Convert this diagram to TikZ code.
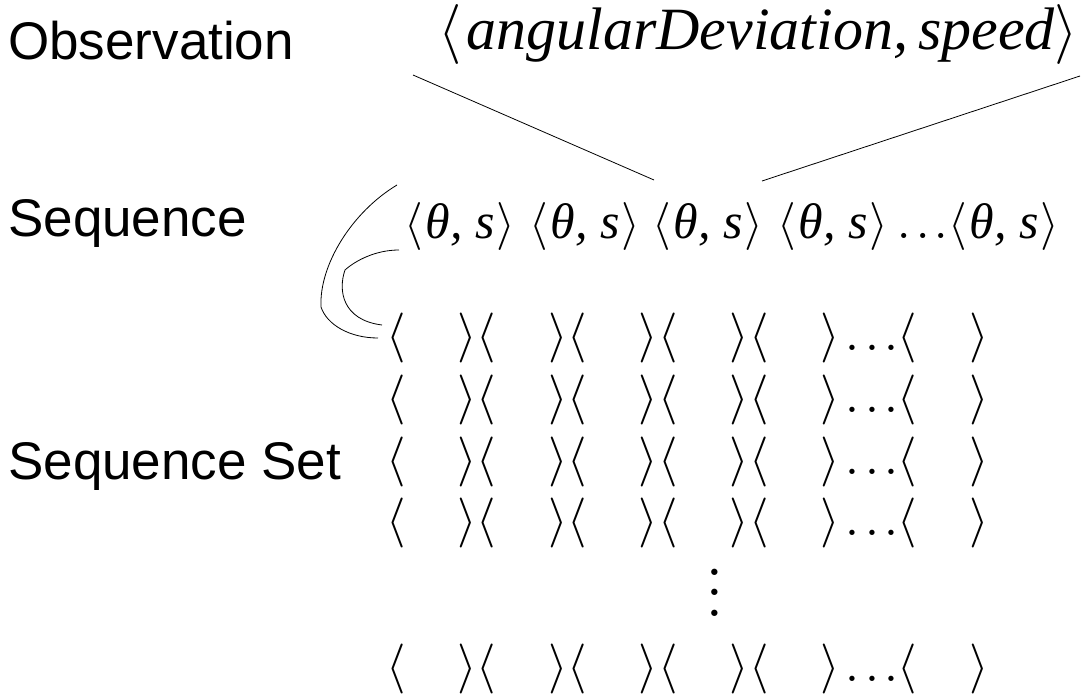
\documentclass[tikz,border=0pt]{standalone}
\usepackage{mathptmx}
\usepackage[no-math]{fontspec}
\newfontfamily\labelfont{Liberation Sans}
\newfontfamily\serifit{Liberation Serif Italic}
\newcommand\emptyrow{$\langle\hspace{52bp}\rangle\langle\hspace{52bp}\rangle\langle\hspace{52bp}\rangle\langle\hspace{52bp}\rangle\langle\hspace{52bp}\rangle\ldots\hspace{-6bp}\langle\hspace{52bp}\rangle$}
\newcommand\tsgroup{$\langle$\hspace{3bp}{\serifit\fontsize{50bp}{56bp}\selectfont θ, s}\hspace{2bp}$\rangle$}
\newcommand\tallvdots{\vbox{\baselineskip=20.5bp\lineskiplimit=0pt\hbox{$.$}\hbox{$.$}\hbox{$.$}}}
\tikzset{
  lbl/.style={font=\labelfont\fontsize{53bp}{60bp}\selectfont, anchor=base west, inner sep=0pt},
  obsv/.style={font=\fontsize{60bp}{70bp}\selectfont, anchor=base west, inner sep=0pt},
  grp/.style={font=\fontsize{48bp}{56bp}\selectfont, anchor=base west, inner sep=0pt},
  brow/.style={font=\fontsize{50bp}{58bp}\selectfont, anchor=base west, inner sep=0pt},
  link/.style={line width=0.8bp, black},
}
\begin{document}
\begin{tikzpicture}[x=1bp,y=-1bp]
\useasboundingbox[fill=white] (0,0) rectangle (1087,698);
% labels
\node[lbl] (lobs) at (8,60) {Observation};
\node[lbl] (lseq) at (8,236) {Sequence};
\node[lbl] (lset) at (8,479) {Sequence Set};
% observation
\node[obsv] (obs) at (438,50) {$\langle$\hspace{5bp}{\serifit angularDeviation,\,speed}$\rangle$};
% sequence
\node[grp] (g1) at (404,238) {\tsgroup};
\node[grp] (g2) at (529,238) {\tsgroup};
\node[grp] (g3) at (652,238) {\tsgroup};
\node[grp] (g4) at (777,238) {\tsgroup};
\node[grp, anchor=base] (sdots) at (923,238) {$\ldots$};
\node[grp] (g5) at (948,238) {\tsgroup};
% sequence set
\node[brow] (r1) at (386,350.5) {\emptyrow};
\node[brow] (r2) at (386,412.5) {\emptyrow};
\node[brow] (r3) at (386,474.5) {\emptyrow};
\node[brow] (r4) at (386,535.5) {\emptyrow};
\node[font=\fontsize{60bp}{60bp}\selectfont, inner sep=0pt] (vd) at (715,592.5) {\tallvdots};
\node[brow] (r5) at (386,681.5) {\emptyrow};
% connectors
\coordinate (la) at (413,75);
\coordinate (lb) at (654,180);
\coordinate (ra) at (1080,76);
\coordinate (rb) at (762,181);
\draw[link] (la) -- (lb);
\draw[link] (ra) -- (rb);
\coordinate (oa) at (397,185);
\coordinate (ob) at (378,338);
\coordinate (ia) at (399,250);
\coordinate (ib) at (382,325);
\draw[link] (oa) .. controls (352,212) and (319,265) .. (321,307)
  .. controls (327,325) and (350,338) .. (ob);
\draw[link] (ia) .. controls (375,250) and (355,261) .. (345,270)
  .. controls (338,290) and (342,320) .. (ib);
\end{tikzpicture}
\end{document}
